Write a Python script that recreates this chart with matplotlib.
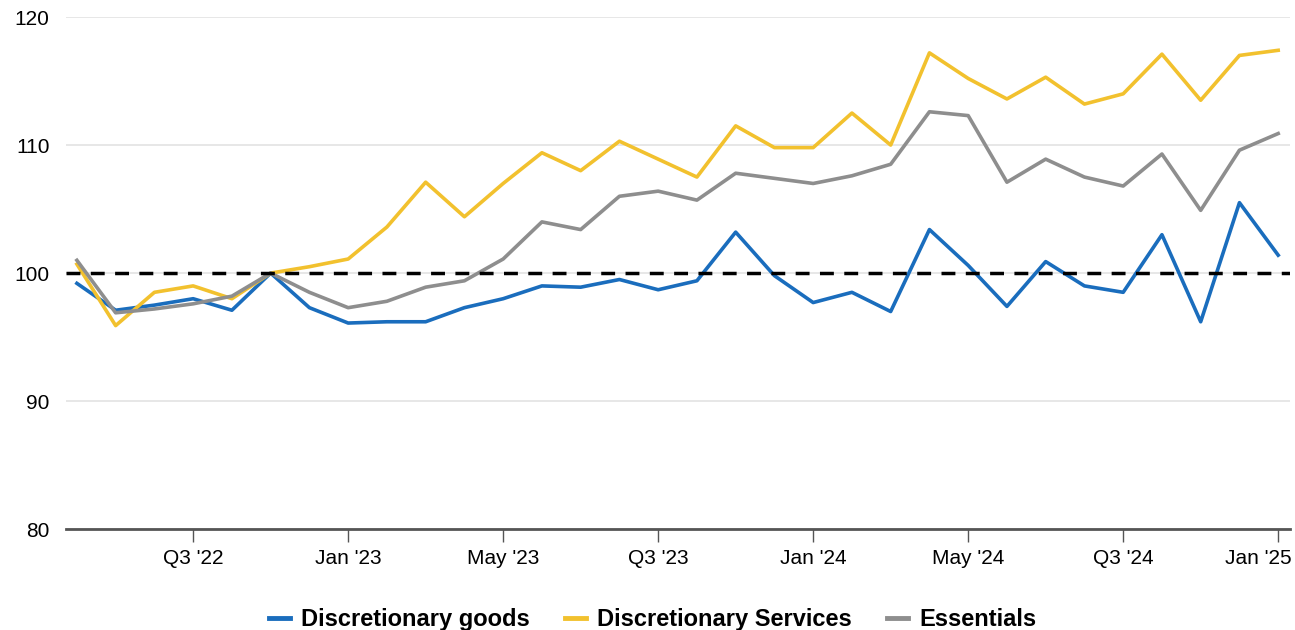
import matplotlib.pyplot as plt
import matplotlib.transforms as mtransforms
import numpy as np

months = ["Jun '22", "Jul '22", "Aug '22", "Sep '22", "Oct '22", "Nov '22", "Dec '22",
          "Jan '23", "Feb '23", "Mar '23", "Apr '23", "May '23", "Jun '23", "Jul '23",
          "Aug '23", "Sep '23", "Oct '23", "Nov '23", "Dec '23",
          "Jan '24", "Feb '24", "Mar '24", "Apr '24", "May '24", "Jun '24", "Jul '24",
          "Aug '24", "Sep '24", "Oct '24", "Nov '24", "Dec '24", "Jan '25"]

disc_goods = [99.2, 97.1, 97.5, 98.0, 97.1, 100.0, 97.3, 96.1, 96.2, 96.2, 97.3, 98.0,
              99.0, 98.9, 99.5, 98.7, 99.4, 103.2, 99.8, 97.7, 98.5, 97.0, 103.4, 100.6,
              97.4, 100.9, 99.0, 98.5, 103.0, 96.2, 105.5, 101.4]
disc_services = [100.7, 95.9, 98.5, 99.0, 98.0, 100.0, 100.5, 101.1, 103.6, 107.1, 104.4, 107.0,
                 109.4, 108.0, 110.3, 108.9, 107.5, 111.5, 109.8, 109.8, 112.5, 110.0, 117.2, 115.2,
                 113.6, 115.3, 113.2, 114.0, 117.1, 113.5, 117.0, 117.4]
essentials = [101.0, 96.9, 97.2, 97.6, 98.2, 100.0, 98.5, 97.3, 97.8, 98.9, 99.4, 101.1,
              104.0, 103.4, 106.0, 106.4, 105.7, 107.8, 107.4, 107.0, 107.6, 108.5, 112.6, 112.3,
              107.1, 108.9, 107.5, 106.8, 109.3, 104.9, 109.6, 110.9]

tick_pos = [3, 7, 11, 15, 19, 23, 27, 31]
tick_labels = ["Q3 '22", "Jan '23", "May '23", "Q3 '23", "Jan '24", "May '24", "Q3 '24", "Jan '25"]

plt.rcParams['font.family'] = ['Liberation Sans', 'DejaVu Sans']

fig = plt.figure(figsize=(12.95, 6.3), dpi=100)
ax = fig.add_axes([0.051, 0.16, 0.945, 0.813])

x = np.arange(len(months))
ax.plot(x, disc_goods, color='#1a6dbd', lw=2.6, label='Discretionary goods', zorder=3)
ax.plot(x, disc_services, color='#f2c12e', lw=2.6, label='Discretionary Services', zorder=3)
ax.plot(x, essentials, color='#8e8e8e', lw=2.6, label='Essentials', zorder=3)
ax.axhline(100, color='black', lw=2.5, ls=(0, (4, 3)), zorder=4)

ax.set_ylim(80, 120)
ax.set_xlim(-0.28, 31.3)
ax.set_yticks([80, 90, 100, 110, 120])
ax.grid(axis='y', color='#e3e3e3', lw=1.2, zorder=0)
ax.set_xticks(tick_pos)
ax.set_xticklabels(tick_labels)
ax.tick_params(axis='x', length=9, width=1, color='#555555', labelsize=15, pad=5)
ax.tick_params(axis='y', length=0, labelsize=15, pad=12)
for s in ['top', 'right', 'left']:
    ax.spines[s].set_visible(False)
ax.spines['bottom'].set_color('#555555')
ax.spines['bottom'].set_linewidth(2)

# last label is pushed left so it stays inside the figure
last = ax.get_xticklabels()[-1]
last.set_horizontalalignment('right')
last.set_transform(last.get_transform() + mtransforms.ScaledTranslation(0.13, 0, fig.dpi_scale_trans))

leg = fig.legend(loc='lower center', bbox_to_anchor=(0.504, -0.035), ncol=3, frameon=False,
                 prop={'weight': 'bold', 'size': 17}, handlelength=0.9, handletextpad=0.45,
                 columnspacing=1.5)
for line in leg.get_lines():
    line.set_linewidth(3.5)

fig.savefig('out.png', dpi=100)
